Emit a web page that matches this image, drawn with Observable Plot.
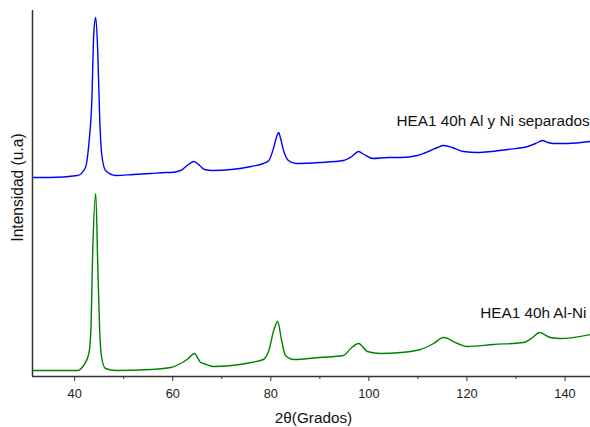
<!DOCTYPE html>
<html>
<head>
<meta charset="utf-8">
<script src="https://cdn.jsdelivr.net/npm/d3@7"></script>
<script src="https://cdn.jsdelivr.net/npm/@observablehq/plot@0.6"></script>
<style>
  html, body { margin: 0; padding: 0; background: #fff; overflow: hidden; }
</style>
</head>
<body>
<div id="chart"></div>
<script>
// 2θ positions and intensities (arbitrary units)
const thetaBlue = [31.6, 35, 40.6, 42.2, 42.9, 43.5, 43.9, 44.3, 44.7, 45.1, 45.5, 46.3, 48.4, 52, 55.5, 58.6, 59.6,
  61.6, 63.2, 64.3, 65.5, 66.5, 68.1, 72, 76, 78.5, 79.6, 80.6, 81.2, 81.6, 82.0, 82.6, 83.6, 85.1,
  90, 94.8, 96.5, 97.9, 99, 100.8, 104, 106.5, 109.9, 112.6, 114, 115.2, 117, 119.3, 122.2, 125,
  128.3, 132.4, 134, 135.4, 136.5, 137.7, 140.5, 145.2];
const intBlue = [199, 199, 201, 209, 233, 276, 343, 359, 326, 259, 223, 206, 201, 202, 203, 204, 204,
  206, 212, 215, 211, 207, 206, 207, 210, 213, 216, 229, 240, 244, 238, 226, 216, 213,
  214, 216, 220, 225, 222, 218, 219, 219, 221, 226, 229, 231, 229, 225, 224, 225,
  227, 230, 233, 236, 234, 233, 233, 235];

const thetaGreen = [31.6, 35, 40.6, 41.8, 42.9, 43.3, 43.7, 44.3, 44.7, 45.1, 45.5, 46.3, 48.4, 55.5, 59.6,
  61.6, 63.2, 64.4, 65.7, 66.3, 68.3, 72, 76, 78.5, 79.6, 80.6, 81.4, 82.2, 83.0, 84.7,
  90, 94.8, 96.3, 97.9, 99.7, 102.4, 106.5, 110.5, 113.2, 115.2, 118.1, 120.1, 125.4,
  131.5, 133.4, 134.8, 137.0, 139.1, 145.2];
const intGreen = [6, 6, 6, 11, 23, 46, 129, 183, 113, 46, 19, 8, 6, 7, 9,
  13, 18, 23, 14, 13, 10, 11, 14, 17, 26, 46, 55, 36, 21, 17,
  19, 21, 28, 33, 25, 23, 24, 27, 33, 39, 33, 30, 32,
  34, 39, 44, 39, 38, 42];

const seriesNames = ["HEA1 40h Al y Ni separados", "HEA1 40h Al-Ni"];
const seriesColors = ["#0000ff", "#008000"];
const labelTheta = [105.65, 122.7];
const labelInt = [251, 59];

const majorTicks = [40, 60, 80, 100, 120, 140];
const minorTicks = [50, 70, 90, 110, 130];

const blue = thetaBlue.map((t, i) => ({t, v: intBlue[i]}));
const green = thetaGreen.map((t, i) => ({t, v: intGreen[i]}));
const labels = seriesNames.map((name, i) => ({name, t: labelTheta[i], v: labelInt[i]}));

const xDomain = [31.4, 145.2];
const yDomain = [0, 366];
const font = "'Liberation Sans', Arial, sans-serif";

const chart = Plot.plot({
  width: 590,
  height: 427,
  marginLeft: 32,
  marginRight: 0,
  marginTop: 10,
  marginBottom: 51,
  style: {background: "#fff", fontFamily: font, overflow: "hidden"},
  x: {domain: xDomain, axis: null},
  y: {domain: yDomain, axis: null},
  marks: [
    Plot.line(blue, {x: "t", y: "v", stroke: seriesColors[0], strokeWidth: 1.4, curve: "monotone-x"}),
    Plot.line(green, {x: "t", y: "v", stroke: seriesColors[1], strokeWidth: 1.4, curve: "monotone-x"}),
    Plot.axisX({ticks: majorTicks, tickSize: 5, tickPadding: 7, fontSize: 12.8, stroke: "#333", fill: "#222", label: null}),
    Plot.axisX({ticks: minorTicks, tickSize: 3, tickFormat: () => "", stroke: "#333", label: null}),
    Plot.ruleY([yDomain[0]], {stroke: "#333", strokeWidth: 1.5}),
    Plot.ruleX([xDomain[0]], {stroke: "#333", strokeWidth: 1.5}),
    Plot.text(labels, {x: "t", y: "v", text: "name", textAnchor: "start", lineAnchor: "bottom", fontSize: 15.3, fill: "#111"}),
    Plot.text(["Intensidad (u.a)"], {frameAnchor: "left", dx: -15, dy: -6, rotate: -90, fontSize: 15.6, fill: "#111", textAnchor: "middle", lineAnchor: "middle"}),
    Plot.text(["2θ(Grados)"], {frameAnchor: "bottom", dy: 42, dx: 2, fontSize: 15.3, fill: "#111", textAnchor: "middle", lineAnchor: "middle"})
  ]
});
document.getElementById("chart").appendChild(chart);
</script>
</body>
</html>
